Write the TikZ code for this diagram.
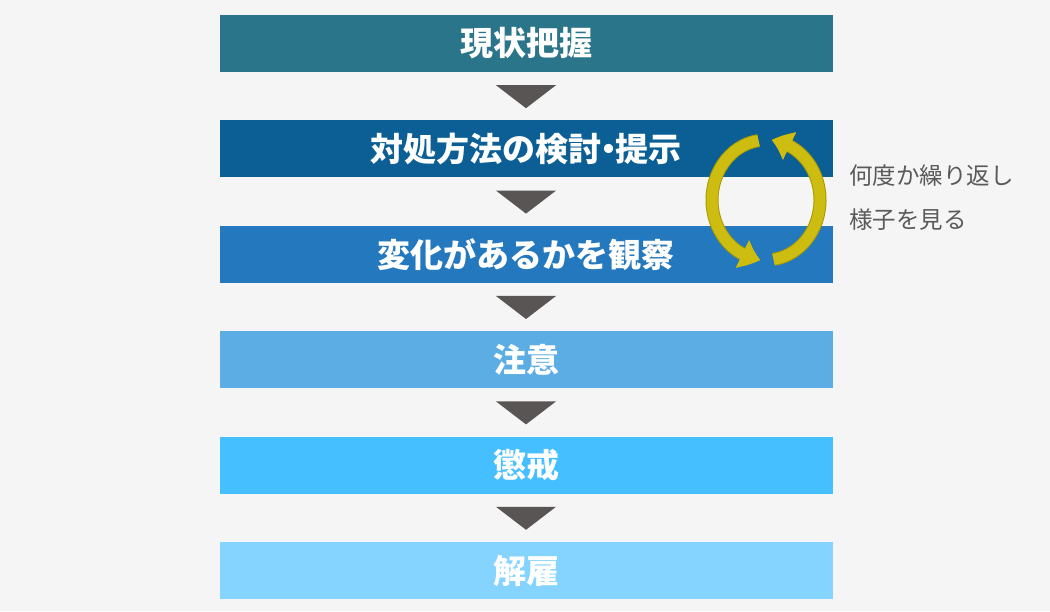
\documentclass[tikz,border=0pt]{standalone}
\usepackage{fontspec}
\newfontfamily\jp{Noto Sans CJK JP}
\usetikzlibrary{positioning,arrows.meta,bending,calc}
\definecolor{bgc}{HTML}{F5F5F5}
\definecolor{stepA}{HTML}{2A7589}
\definecolor{stepB}{HTML}{0B5F95}
\definecolor{stepC}{HTML}{2478BE}
\definecolor{stepD}{HTML}{5DADE5}
\definecolor{stepE}{HTML}{45BFFF}
\definecolor{stepF}{HTML}{84D4FF}
\definecolor{tric}{HTML}{595555}
\definecolor{cyc}{HTML}{CDBD10}
\definecolor{cycdark}{HTML}{A89A00}
\definecolor{notec}{HTML}{5A5A5A}
\begin{document}
\begin{tikzpicture}[
                x = 1pt, y = 1pt,
                box/.style = {inner sep = 0mm, minimum width = 613pt, minimum height = 57pt,
                              text = white, font = \jp\bfseries\fontsize{33}{38}\selectfont},
                tri/.style = {fill = tric},
                cycarr/.style = {draw = cyc, line width = 11pt,
                                 -{Triangle[bend, length = 19pt, width = 29pt]},
                                 preaction = {draw = cycdark, line width = 13pt}},
                note/.style = {anchor = west, inner sep = 0mm, text = notec,
                               font = \jp\fontsize{23.5}{28}\selectfont},
            ]
            \fill[bgc] (0,0) rectangle (1050,611);
            \useasboundingbox (0,0) rectangle (1050,611);

            \node (S1) [box, fill = stepA] at (526, 567.5) {現状把握};
            \node (S2) [box, fill = stepB, below = 48pt of S1] {対処方法の検討\kern-.3em・\kern-.3em提示};
            \node (S3) [box, fill = stepC, below = 48pt of S2] {変化があるかを観察};
            \node (S4) [box, fill = stepD, below = 48pt of S3] {注意};
            \node (S5) [box, fill = stepE, below = 48pt of S4] {懲戒};
            \node (S6) [box, fill = stepF, below = 48pt of S5] {解雇};

            \foreach \a in {S1, S2, S3, S4, S5}
                \fill[tri] ($(\a.south) + (-30, -13)$) -- ++(60, 0) -- ($(\a.south) + (0, -36)$) -- cycle;

            \coordinate (C) at (766, 411);
            \path[cycarr] (C) ++(98:54 and 60) arc[start angle = 98, end angle = 264, x radius = 54, y radius = 60];
            \path[cycarr] (C) ++(-82:54 and 60) arc[start angle = -82, end angle = 84, x radius = 54, y radius = 60];

            \node (N1) [note] at (849, 435) {何度か繰り返し};
            \node (N2) [note, below = 21pt of N1.south west, anchor = north west] {様子を見る};
        \end{tikzpicture}
\end{document}
